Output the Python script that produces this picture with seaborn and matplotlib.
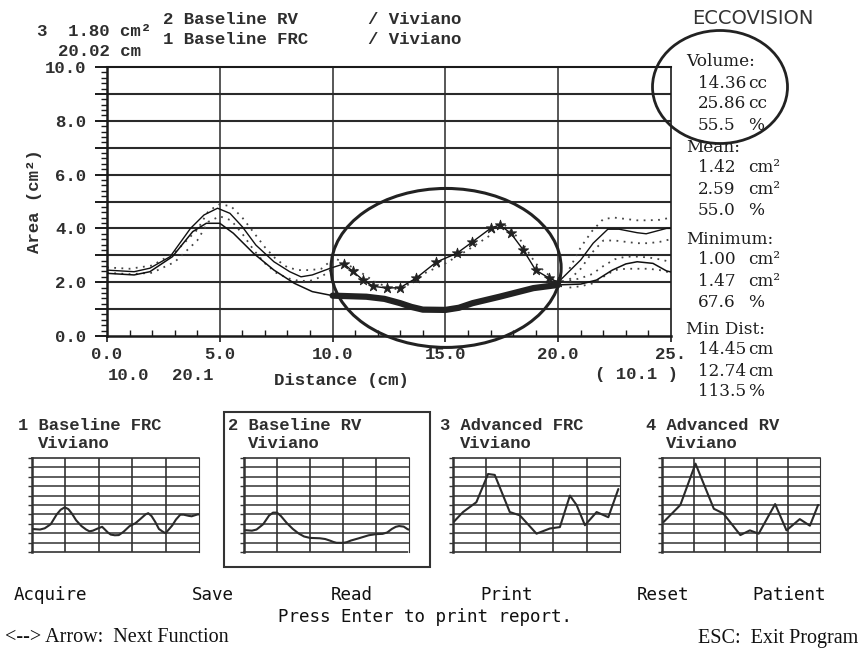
import matplotlib
matplotlib.use("Agg")
import matplotlib.pyplot as plt
from matplotlib.patches import Ellipse, Rectangle
from matplotlib.ticker import MultipleLocator, FixedLocator, FixedFormatter
import seaborn as sns

# ---------------- data ----------------
frc_dist = [0, 1.2, 1.9, 2.8, 3.7, 4.3, 4.9, 5.45, 6.0, 6.6, 7.4, 8.1, 8.6, 9.1, 9.9,
            10.5, 10.9, 11.35, 11.8, 12.4, 13.0, 13.7, 14.6, 15.5, 16.2, 17.0, 17.4,
            17.9, 18.45, 19.0, 19.6, 20.0, 21.0, 21.55, 22.2, 22.7, 23.5, 23.9, 24.8, 25.0]
frc_area = [2.45, 2.39, 2.52, 2.95, 4.0, 4.5, 4.75, 4.56, 4.06, 3.38, 2.76, 2.39, 2.2, 2.27, 2.52,
            2.68, 2.4, 2.08, 1.85, 1.78, 1.8, 2.15, 2.75, 3.07, 3.5, 4.0, 4.13,
            3.82, 3.2, 2.45, 2.15, 2.0, 2.83, 3.45, 3.97, 3.97, 3.84, 3.8, 4.0, 4.0]

rv_dist = [0, 1.2, 1.9, 2.9, 3.8, 4.4, 5.0, 5.6, 6.5, 7.4, 8.3, 9.1, 10.0, 11.5, 12.3,
           13.0, 13.5, 14.0, 15.0, 15.6, 16.2, 17.4, 18.9, 20.0, 21.0, 21.7, 22.4, 23.0,
           23.5, 24.2, 24.8, 25.0]
rv_area = [2.33, 2.27, 2.39, 2.95, 3.88, 4.19, 4.19, 3.82, 3.07, 2.45, 1.96, 1.65, 1.5, 1.46, 1.38,
           1.22, 1.08, 0.98, 0.97, 1.05, 1.22, 1.46, 1.78, 1.9, 1.93, 2.08, 2.45, 2.68,
           2.76, 2.7, 2.42, 2.38]

env_left_dist = [0, 1, 2, 3, 4, 4.5, 5, 5.5, 6, 6.5, 7, 7.5, 8, 8.5, 9, 9.5, 10]
frc_hi_left = [2.55, 2.5, 2.62, 3.1, 3.95, 4.65, 4.9, 4.82, 4.4, 3.85, 3.3, 2.85, 2.55, 2.45, 2.45, 2.5, 2.85]
frc_lo_left = [2.35, 2.3, 2.35, 2.75, 3.55, 4.25, 4.45, 4.3, 3.8, 3.2, 2.7, 2.35, 2.15, 2.05, 2.05, 2.2, 2.5]

mid_dot_dist = [10.2, 11.0, 12.0, 13.0, 14.0, 15.0, 16.0, 17.0, 17.6, 18.3, 19.0, 19.8]
mid_dot_area = [2.85, 2.5, 1.95, 1.7, 2.3, 2.7, 3.2, 3.75, 4.15, 3.6, 2.7, 2.1]

env_right_dist = [20.5, 21.0, 21.5, 22.0, 22.5, 23.0, 23.5, 24.0, 24.5, 25.0]
frc_hi_right = [2.5, 3.3, 3.9, 4.35, 4.4, 4.35, 4.3, 4.3, 4.32, 4.4]
frc_lo_right = [2.1, 2.5, 3.1, 3.55, 3.55, 3.5, 3.45, 3.45, 3.5, 3.6]
rv_hi_right = [2.05, 2.15, 2.3, 2.6, 2.85, 2.95, 2.95, 2.92, 2.85, 2.75]
rv_lo_right = [1.8, 1.85, 1.95, 2.2, 2.45, 2.5, 2.5, 2.5, 2.45, 2.35]

adv_frc_dist = [0.1, 1.5, 3.5, 5.25, 6.25, 8.5, 10.0, 12.5, 14.5, 16.0, 17.5, 18.5, 19.75, 21.5, 23.25, 24.75]
adv_frc_area = [3.2, 4.25, 5.3, 8.3, 8.2, 4.25, 3.9, 1.95, 2.5, 2.65, 6.0, 5.0, 2.85, 4.25, 3.7, 6.7]
adv_rv_dist = [0.26, 2.9, 5.3, 8.2, 9.7, 12.4, 13.9, 15.3, 17.9, 19.7, 21.8, 23.4, 24.7]
adv_rv_area = [3.2, 5.0, 9.4, 4.6, 4.1, 1.8, 2.3, 1.95, 5.1, 2.3, 3.5, 2.8, 5.0]

x_tick_values = [0, 5, 10, 15, 20, 25]
x_tick_labels = ["0.0", "5.0", "10.0", "15.0", "20.0", "25."]
y_tick_values = [0, 1, 2, 3, 4, 5, 6, 7, 8, 9, 10]
y_tick_labels = ["0.0", "", "2.0", "", "4.0", "", "6.0", "", "8.0", "", "10.0"]

panel_titles = ["1 Baseline FRC", "2 Baseline RV", "3 Advanced FRC", "4 Advanced RV"]
stat_headers = ["Volume:", "Mean:", "Minimum:", "Min Dist:"]
stat_values = [["14.36", "25.86", "55.5"], ["1.42", "2.59", "55.0"],
               ["1.00", "1.47", "67.6"], ["14.45", "12.74", "113.5"]]
stat_units = [["cc", "cc", "%"], ["cm\u00b2", "cm\u00b2", "%"],
              ["cm\u00b2", "cm\u00b2", "%"], ["cm", "cm", "%"]]
menu_items = ["Acquire", "Save", "Read", "Print", "Reset", "Patient"]

# ---------------- figure ----------------
sns.set_theme(style="white")
plt.rcParams["font.family"] = ["DejaVu Sans"]
W, H = 864, 649
fig = plt.figure(figsize=(W / 100, H / 100), dpi=100, facecolor="white")

MONO = "Liberation Mono"
SERIF = "DejaVu Serif"
INK = "#1e1e1e"
MONO_INK = "#2e2e2e"


def fx(x):
    return x / W


def fy(y):
    return 1 - y / H


def ptext(x, y, s, **kw):
    kw.setdefault("color", INK)
    kw.setdefault("va", "center")
    fig.text(fx(x), fy(y), s, **kw)


# ---------------- main chart ----------------
ax = fig.add_axes([fx(107), fy(336), (671 - 107) / W, (336 - 67) / H])
ax.set_xlim(0, 25)
ax.set_ylim(0, 10)
ax.set_facecolor("white")

for yv in range(1, 10):
    ax.axhline(yv, color="#2a2a2a", lw=1.5, zorder=1)
for xv in [5, 10, 15, 20]:
    ax.axvline(xv, color="#2a2a2a", lw=1.1, zorder=1)

dot = (0, (1, 3))
for xs, ys in [(env_left_dist, frc_hi_left), (env_left_dist, frc_lo_left),
               (mid_dot_dist, mid_dot_area),
               (env_right_dist, frc_hi_right), (env_right_dist, frc_lo_right),
               (env_right_dist, rv_hi_right), (env_right_dist, rv_lo_right)]:
    sns.lineplot(x=xs, y=ys, ax=ax, color="#444444", lw=1.3, linestyle=dot,
                 estimator=None, sort=False, zorder=2)

sns.lineplot(x=frc_dist, y=frc_area, ax=ax, color="#111111", lw=1.0,
             estimator=None, sort=False, zorder=3)
sns.lineplot(x=rv_dist, y=rv_area, ax=ax, color="#111111", lw=1.1,
             estimator=None, sort=False, zorder=3)

mid_rv_x = [d for d in rv_dist if 10 <= d <= 20]
mid_rv_y = [a for d, a in zip(rv_dist, rv_area) if 10 <= d <= 20]
sns.lineplot(x=mid_rv_x, y=mid_rv_y, ax=ax, color="#222222", lw=4.5,
             estimator=None, sort=False, zorder=4, solid_capstyle="round")

mid_frc_x = [d for d in frc_dist if 10 <= d <= 20]
mid_frc_y = [a for d, a in zip(frc_dist, frc_area) if 10 <= d <= 20]
sns.scatterplot(x=mid_frc_x, y=mid_frc_y, ax=ax, marker="*", s=60, color="#222222",
                edgecolor="#222222", linewidth=0.6, zorder=5)

ax.add_patch(Ellipse((15.03, 2.53), 10.2, 5.91, fill=False, lw=2.2, ec="#222222",
                     clip_on=False, zorder=6))

for side in ["left", "bottom", "right", "top"]:
    ax.spines[side].set_visible(True)
    ax.spines[side].set_color("#1a1a1a")
ax.spines["left"].set_linewidth(1.8)
ax.spines["bottom"].set_linewidth(1.8)
ax.spines["right"].set_linewidth(1.2)
ax.spines["top"].set_linewidth(1.5)

ax.yaxis.set_major_locator(FixedLocator(y_tick_values))
ax.yaxis.set_major_formatter(FixedFormatter(y_tick_labels))
ax.yaxis.set_minor_locator(MultipleLocator(0.2))
ax.tick_params(axis="y", which="major", direction="out", length=9, width=1.4,
               color="#1a1a1a", pad=6, labelsize=12.5, labelcolor=MONO_INK, left=True)
ax.tick_params(axis="y", which="minor", direction="out", length=4, width=1.0,
               color="#1a1a1a", left=True)
ax.xaxis.set_major_locator(FixedLocator(x_tick_values))
ax.xaxis.set_major_formatter(FixedFormatter(x_tick_labels))
ax.xaxis.set_minor_locator(MultipleLocator(1))
ax.tick_params(axis="x", which="major", direction="out", length=4, width=1.2,
               color="#1a1a1a", pad=4, labelsize=12.5, labelcolor=MONO_INK, bottom=True)
ax.tick_params(axis="x", which="minor", direction="in", length=4, width=1.0,
               color="#1a1a1a", bottom=True)
for lab in ax.get_xticklabels() + ax.get_yticklabels():
    lab.set_fontfamily(MONO)
    lab.set_fontweight("bold")
ax.set_xlabel("")
ax.set_ylabel("")

mono_kw = dict(fontfamily=MONO, fontweight="bold", fontsize=12.5, color=MONO_INK)
ptext(35, 201, "Area (cm\u00b2)", rotation=90, ha="center", **mono_kw)
ptext(341, 380, "Distance (cm)", ha="center", **mono_kw)
ptext(108, 376, "10.0", ha="left", **mono_kw)
ptext(172, 376, "20.1", ha="left", **mono_kw)
ptext(595, 374, "( 10.1 )", ha="left", **mono_kw)

# header texts
ptext(37, 31, "3  1.80 cm\u00b2", ha="left", **mono_kw)
ptext(58, 51, "20.02 cm", ha="left", **mono_kw)
ptext(163, 19, "2 Baseline RV", ha="left", **mono_kw)
ptext(163, 39, "1 Baseline FRC", ha="left", **mono_kw)
ptext(368, 19, "/ Viviano", ha="left", **mono_kw)
ptext(368, 39, "/ Viviano", ha="left", **mono_kw)
ptext(692, 18, "ECCOVISION", ha="left", fontfamily="DejaVu Sans", fontsize=14,
      color="#333333")

# statistics column
header_y = [62, 147, 239, 329]
for hy, head, vals, units in zip(header_y, stat_headers, stat_values, stat_units):
    ptext(686, hy, head, ha="left", fontfamily=SERIF, fontsize=12.2)
    for k, (v, u) in enumerate(zip(vals, units)):
        yy = hy + 21 * (k + 1)
        ptext(698, yy, v, ha="left", fontfamily=SERIF, fontsize=12.2)
        ptext(748, yy, u, ha="left", fontfamily=SERIF, fontsize=12.2)

fig.patches.append(Ellipse((fx(720), fy(87)), 135 / W, 113 / H, fill=False, lw=2.0,
                           ec="#222222", transform=fig.transFigure, figure=fig))

# ---------------- small panels ----------------
panel_boxes = [(32, 199), (244, 409), (453, 620), (662, 820)]
panel_title_x = [18, 228, 440, 646]
panel_data = [(frc_dist, frc_area), (rv_dist, rv_area),
              (adv_frc_dist, adv_frc_area), (adv_rv_dist, adv_rv_area)]
small_kw = dict(fontfamily=MONO, fontweight="bold", fontsize=12.3, color=MONO_INK)
for (l, r), tx, title, (xs, ys) in zip(panel_boxes, panel_title_x, panel_titles, panel_data):
    pax = fig.add_axes([fx(l), fy(552), (r - l) / W, 94 / H])
    pax.set_xlim(0, 25)
    pax.set_ylim(0, 10)
    for yv in range(1, 10):
        pax.axhline(yv, color="#333333", lw=1.1, zorder=1)
    for xv in [5, 10, 15, 20]:
        pax.axvline(xv, color="#333333", lw=1.2, zorder=1)
    sns.lineplot(x=xs, y=ys, ax=pax, color="#2a2a2a", lw=1.5, estimator=None,
                 sort=False, zorder=3)
    for side in ["left", "bottom", "right", "top"]:
        pax.spines[side].set_visible(True)
        pax.spines[side].set_color("#333333")
    pax.spines["left"].set_linewidth(1.8)
    pax.spines["bottom"].set_linewidth(1.2)
    pax.spines["bottom"].set_linestyle((0, (2, 1)))
    pax.spines["top"].set_linewidth(1.2)
    pax.spines["right"].set_linewidth(0.8)
    pax.set_xticks([])
    pax.yaxis.set_major_locator(MultipleLocator(1))
    pax.tick_params(axis="y", which="major", direction="out", length=3, width=1.0,
                    color="#333333", labelleft=False, left=True)
    pax.set_xlabel("")
    pax.set_ylabel("")
    ptext(tx, 425, title, ha="left", **small_kw)
    ptext(tx + 20, 444, "Viviano", ha="left", **small_kw)

fig.patches.append(Rectangle((fx(224), fy(567)), 206 / W, 155 / H, fill=False, lw=1.5,
                             ec="#333333", transform=fig.transFigure, figure=fig))

# ---------------- menu ----------------
menu_x = [14, 192, 331, 480, 637, 752]
menu_kw = dict(fontfamily="DejaVu Sans Mono", fontsize=12.6, color="#111111")
for mx, item in zip(menu_x, menu_items):
    ptext(mx, 595, item, ha="left", **menu_kw)
ptext(278, 617, "Press Enter to print report.", ha="left", **menu_kw)
ptext(5, 638, "<--> Arrow:  Next Function", ha="left", fontfamily="Liberation Serif",
      fontsize=14.5, color="#111111")
ptext(858, 638, "ESC:  Exit Program", ha="right", fontfamily="Liberation Serif",
      fontsize=14.5, color="#111111")

fig.savefig("out.png", dpi=100, facecolor="white")
